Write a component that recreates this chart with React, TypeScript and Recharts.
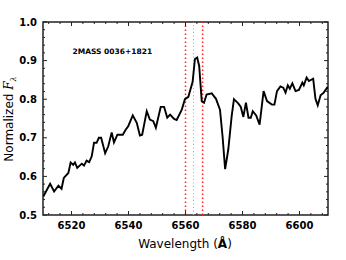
import React from "react";
import {
  LineChart,
  Line,
  XAxis,
  YAxis,
  ReferenceLine,
  ReferenceArea,
} from "recharts";

const WAVELENGTH = [
  6510.1, 6512.5, 6513.9, 6515.4, 6516.5, 6517.3, 6518.9, 6519.7, 6520.6, 6521.2,
  6522.0, 6523.6, 6524.4, 6525.3, 6526.2, 6527.1, 6527.9, 6528.8, 6529.6, 6530.4,
  6531.8, 6532.9, 6534.1, 6534.9, 6536.1, 6538.0, 6539.0, 6539.9, 6541.5, 6542.9,
  6544.0, 6544.8, 6546.4, 6547.5, 6548.7, 6549.6, 6551.3, 6552.5, 6553.6, 6554.6,
  6556.0, 6556.9, 6558.7, 6559.8, 6561.0, 6562.5, 6563.3, 6564.1, 6564.8, 6565.7,
  6566.5, 6567.4, 6569.2, 6570.7, 6572.1, 6573.0, 6573.9, 6575.0, 6576.2, 6577.0,
  6578.5, 6579.4, 6580.3, 6581.2, 6582.1, 6582.9, 6583.6, 6584.8, 6586.0, 6587.4,
  6588.6, 6590.3, 6591.2, 6592.1, 6593.3, 6594.3, 6595.1, 6595.9, 6596.6, 6597.5,
  6598.6, 6599.8, 6601.0, 6601.5, 6602.5, 6603.3, 6604.8, 6605.6, 6606.4, 6607.4,
  6608.5, 6609.7, 6610.0,
];

const FLUX = [
  0.548, 0.581, 0.561, 0.576, 0.568, 0.596, 0.609, 0.636, 0.63, 0.636,
  0.622, 0.633, 0.628, 0.641, 0.637, 0.652, 0.687, 0.687, 0.7, 0.7,
  0.66, 0.678, 0.714, 0.688, 0.708, 0.708, 0.721, 0.73, 0.758, 0.739,
  0.706, 0.708, 0.769, 0.747, 0.743, 0.726, 0.78, 0.78, 0.752, 0.76,
  0.749, 0.746, 0.773, 0.8, 0.806, 0.845, 0.904, 0.908, 0.886, 0.795,
  0.791, 0.812, 0.815, 0.801, 0.773, 0.704, 0.619, 0.669, 0.756, 0.8,
  0.789, 0.78, 0.754, 0.791, 0.752, 0.752, 0.769, 0.758, 0.734, 0.821,
  0.795, 0.786, 0.786, 0.821, 0.833, 0.83, 0.817, 0.836, 0.827, 0.841,
  0.821, 0.824, 0.843, 0.836, 0.856, 0.847, 0.853, 0.801, 0.784, 0.81,
  0.817, 0.83, 0.827,
];

const X_MAJOR = [6520, 6540, 6560, 6580, 6600];
const Y_MAJOR = [0.5, 0.6, 0.7, 0.8, 0.9, 1.0];
const LINE_MARKERS = [6560, 6566];
const LINE_CENTER = 6562.8;
const LABEL = "2MASS 0036+1821";

// minor ticks: 5 subdivisions between majors
const X_TICKS = Array.from({ length: 25 }, (_, i) => 6512 + i * 4);
const Y_TICKS = Array.from({ length: 26 }, (_, i) => Math.round((0.5 + i * 0.02) * 100) / 100);

const data = WAVELENGTH.map((w, i) => ({ w, f: FLUX[i] }));

const W = 346;
const H = 260;
const TOP = 22;
const BOTTOM = 215;
const LEFT = 43;
const RIGHT = 328;
const FONT = "'DejaVu Sans', sans-serif";
const FRAME = "#222";

const isMajorX = (v: number) => X_MAJOR.includes(v);
const isMajorY = (v: number) => Y_MAJOR.some((m) => Math.abs(m - v) < 1e-6);

const renderXTick = (props: any) => {
  const { x, payload } = props;
  const major = isMajorX(payload.value);
  const len = major ? 4 : 2;
  return (
    <g key={`xt-${payload.value}`}>
      <line x1={x} x2={x} y1={BOTTOM} y2={BOTTOM - len} stroke={FRAME} strokeWidth={1} />
      <line x1={x} x2={x} y1={TOP} y2={TOP + len} stroke={FRAME} strokeWidth={1} />
      {major && (
        <text x={x} y={BOTTOM + 14} textAnchor="middle" fontFamily={FONT} fontWeight="bold" fontSize={10} fill="#000">
          {payload.value}
        </text>
      )}
    </g>
  );
};

const renderYTick = (props: any) => {
  const { y, payload } = props;
  const major = isMajorY(payload.value);
  const len = major ? 4 : 2;
  return (
    <g key={`yt-${payload.value}`}>
      <line x1={LEFT} x2={LEFT + len} y1={y} y2={y} stroke={FRAME} strokeWidth={1} />
      <line x1={RIGHT} x2={RIGHT - len} y1={y} y2={y} stroke={FRAME} strokeWidth={1} />
      {major && (
        <text x={LEFT - 6} y={y + 3.5} textAnchor="end" fontFamily={FONT} fontWeight="bold" fontSize={10} fill="#000">
          {payload.value.toFixed(1)}
        </text>
      )}
    </g>
  );
};

export default function App() {
  return (
    <div style={{ position: "absolute", left: 0, top: 0, width: W, height: H, background: "#fff" }}>
      <LineChart
        width={W}
        height={H}
        data={data}
        margin={{ top: TOP, right: W - RIGHT, bottom: 0, left: 0 }}
      >
        <XAxis
          dataKey="w"
          type="number"
          domain={[6510, 6610]}
          ticks={X_TICKS}
          interval={0}
          height={H - BOTTOM}
          axisLine={false}
          tickLine={false}
          tick={renderXTick}
          allowDataOverflow
        />
        <YAxis
          type="number"
          domain={[0.5, 1.0]}
          ticks={Y_TICKS}
          interval={0}
          width={LEFT}
          axisLine={false}
          tickLine={false}
          tick={renderYTick}
          allowDataOverflow
        />
        {LINE_MARKERS.map((v) => (
          <ReferenceLine key={v} x={v} stroke="#ff2020" strokeWidth={1.5} strokeDasharray="1.5 2.5" />
        ))}
        <ReferenceLine x={LINE_CENTER} stroke="#aaaaaa" strokeWidth={1} strokeDasharray="1 2.5" />
        <Line
          type="linear"
          dataKey="f"
          stroke="#000"
          strokeWidth={1.9}
          dot={false}
          isAnimationActive={false}
        />
        <ReferenceArea x1={6510} x2={6610} y1={0.5} y2={1.0} fill="none" stroke={FRAME} strokeWidth={1.5} />
      </LineChart>
      <svg
        width={W}
        height={H}
        style={{ position: "absolute", left: 0, top: 0, pointerEvents: "none" }}
      >
        <text x={72.5} y={54} fontFamily={FONT} fontWeight="bold" fontSize={7.5} fill="#000">
          {LABEL}
        </text>
        <text x={185} y={248} textAnchor="middle" fontFamily={FONT} fontSize={12} fill="#000">
          Wavelength (<tspan fontWeight="bold">Å</tspan>)
        </text>
        <text
          transform="translate(12.5, 119) rotate(-90)"
          textAnchor="middle"
          fontFamily={FONT}
          fontSize={12}
          fill="#000"
        >
          Normalized{" "}
          <tspan fontFamily="'DejaVu Serif', serif" fontStyle="italic">F</tspan>
          <tspan fontFamily="'DejaVu Serif', serif" fontStyle="italic" fontSize={8} dy={3}>λ</tspan>
        </text>
      </svg>
    </div>
  );
}
